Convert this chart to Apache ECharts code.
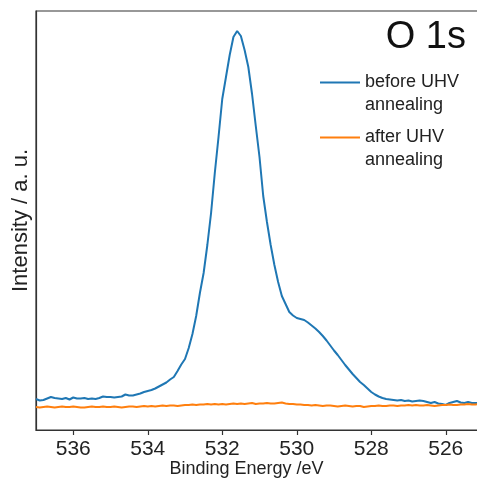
<!DOCTYPE html>
<html>
<head>
<meta charset="utf-8">
<script src="https://cdn.jsdelivr.net/npm/echarts@6/dist/echarts.min.js"></script>
<style>
  html, body { margin: 0; padding: 0; background: #fff; }
  #chart { width: 477px; height: 484px; }
</style>
</head>
<body>
<div id="chart"></div>
<script>
// O 1s XPS spectra, binding energy in eV (0.1 eV steps)
const energy = [
  537.0, 536.9, 536.8, 536.7, 536.6, 536.5, 536.4, 536.3, 536.2, 536.1,
  536.0, 535.9, 535.8, 535.7, 535.6, 535.5, 535.4, 535.3, 535.2, 535.1,
  535.0, 534.9, 534.8, 534.7, 534.6, 534.5, 534.4, 534.3, 534.2, 534.1,
  534.0, 533.9, 533.8, 533.7, 533.6, 533.5, 533.4, 533.3, 533.2, 533.1,
  533.0, 532.9, 532.8, 532.7, 532.6, 532.5, 532.4, 532.3, 532.2, 532.1,
  532.0, 531.9, 531.8, 531.7, 531.6, 531.5, 531.4, 531.3, 531.2, 531.1,
  531.0, 530.9, 530.8, 530.7, 530.6, 530.5, 530.4, 530.3, 530.2, 530.1,
  530.0, 529.9, 529.8, 529.7, 529.6, 529.5, 529.4, 529.3, 529.2, 529.1,
  529.0, 528.9, 528.8, 528.7, 528.6, 528.5, 528.4, 528.3, 528.2, 528.1,
  528.0, 527.9, 527.8, 527.7, 527.6, 527.5, 527.4, 527.3, 527.2, 527.1,
  527.0, 526.9, 526.8, 526.7, 526.6, 526.5, 526.4, 526.3, 526.2, 526.1,
  526.0, 525.9, 525.8, 525.7, 525.6, 525.5, 525.4, 525.3, 525.2, 525.1
];

// Intensity before UHV annealing (a. u.)
const beforeUHV = [
  31, 29.5, 30, 31.5, 33, 32, 31.5, 31, 32, 30.5,
  32.5, 31.5, 31.5, 32, 31, 31.5, 31, 32, 33.5, 33,
  33, 32.5, 33, 33.5, 35.5, 34.5, 34.5, 35.5, 36.5, 38,
  39, 40, 41.5, 43.5, 45.5, 47.5, 50.5, 53, 59, 65.5,
  71, 82, 96, 114, 137, 157, 185, 217, 257, 293,
  331, 353, 375, 393, 399, 394, 380, 363, 336, 304,
  273, 234, 208, 185, 165, 148, 134, 126, 118, 114.5,
  112, 111, 110, 107.5, 104.5, 101.5, 98, 94, 89.5, 84.5,
  79.5, 75, 70, 65, 60.5, 56, 52, 48, 45, 41.5,
  38, 35.5, 33.5, 32, 31, 30.5, 30, 29.5, 30, 29,
  29.5, 28.5, 29, 29.5, 29, 28, 27, 28, 26.5, 26,
  25, 27, 28, 29, 27.5, 27, 28, 27, 27, 27
];

// Intensity after UHV annealing (a. u.)
const afterUHV = [
  23, 22.5, 23, 23.5, 23, 22.5, 23, 23.5, 23, 23,
  23.5, 23, 22.5, 22.5, 23, 23.5, 23, 23, 23.5, 23,
  23, 23.5, 23, 22.5, 23, 23.5, 23.5, 23, 23.5, 24,
  23.5, 24, 23.5, 24, 24.5, 24, 24.5, 24.5, 24, 24.5,
  25, 25, 25.5, 25, 25.5, 25.5, 26, 25.5, 26, 25.5,
  26, 25.5, 26, 26.5, 26, 26.5, 26, 26.5, 27, 26,
  26.5, 26.5, 27, 26.5, 26.5, 27, 27.5, 26.5, 26, 26,
  25.5, 25.5, 25, 25, 24.5, 25, 24.5, 24, 24.5, 24.5,
  24, 23.5, 24, 24.5, 24, 23.5, 24, 24, 23, 23.5,
  24, 24, 24.5, 24, 24, 24.5, 24.5, 24, 24.5, 24.5,
  25, 24.5, 25, 24.5, 24.5, 25, 24.5, 24, 24.5, 25,
  25, 25.5, 25, 25, 25.5, 25.5, 26, 25.5, 25.5, 26
];

const xTicks = [536, 534, 532, 530, 528, 526];
const seriesNames = ['before UHV\nannealing', 'after UHV\nannealing'];
const seriesColors = ['#1f77b4', '#ff7f0e'];

const FONT = '"Liberation Sans", Arial, sans-serif';

const chart = echarts.init(document.getElementById('chart'), null, { renderer: 'canvas' });

// One legend block per series; a blank leading line puts the swatch
// level with the first line of the two-line label.
function legendFor(name, top) {
  return {
    data: [name],
    left: 320,
    top: top,
    padding: 0,
    icon: 'rect',
    itemWidth: 40,
    itemHeight: 2,
    itemGap: 0,
    formatter: n => '\n' + n,
    textStyle: {
      fontFamily: FONT,
      fontSize: 18,
      color: '#222',
      lineHeight: 23
    },
    selectedMode: false
  };
}

chart.setOption({
  animation: false,
  backgroundColor: '#fff',
  title: {
    text: 'O 1s',
    right: 11,
    top: 19,
    padding: 0,
    textStyle: { fontFamily: FONT, fontSize: 38, fontWeight: 'normal', color: '#111' }
  },
  legend: [legendFor(seriesNames[0], 48), legendFor(seriesNames[1], 103)],
  grid: {
    left: 36, width: 447, top: 11, bottom: 54,
    outerBoundsMode: 'none',
    show: true, borderColor: '#333', borderWidth: 1.2,
    containLabel: false
  },
  xAxis: {
    type: 'value',
    min: 525,
    max: 537,
    inverse: true,
    name: 'Binding Energy /eV',
    nameLocation: 'middle',
    nameGap: 30,
    nameMoveOverlap: false,
    nameTextStyle: { fontFamily: FONT, fontSize: 18, color: '#222', padding: [0, 26, 0, 0] },
    axisLine: { show: true, lineStyle: { color: '#333', width: 1.2 } },
    axisTick: { show: true, length: 5, inside: false, customValues: xTicks, lineStyle: { color: '#333', width: 1.2 } },
    axisLabel: { customValues: xTicks, margin: 9, fontFamily: FONT, fontSize: 21, color: '#222' },
    splitLine: { show: false }
  },
  yAxis: {
    type: 'value',
    min: 0,
    max: 419,
    name: 'Intensity / a. u.',
    nameLocation: 'middle',
    nameGap: 4,
    nameMoveOverlap: false,
    nameTextStyle: { fontFamily: FONT, fontSize: 22, color: '#222' },
    axisLine: { show: true, lineStyle: { color: '#333', width: 1.2 } },
    axisTick: { show: false },
    axisLabel: { show: false },
    splitLine: { show: false }
  },
  series: seriesNames.map((name, s) => ({
    name: name,
    type: 'line',
    data: energy.map((e, i) => [e, (s === 0 ? beforeUHV : afterUHV)[i]]),
    showSymbol: false,
    symbol: 'none',
    lineStyle: { color: seriesColors[s], width: 2 },
    itemStyle: { color: seriesColors[s] },
    clip: true
  }))
});
</script>
</body>
</html>
